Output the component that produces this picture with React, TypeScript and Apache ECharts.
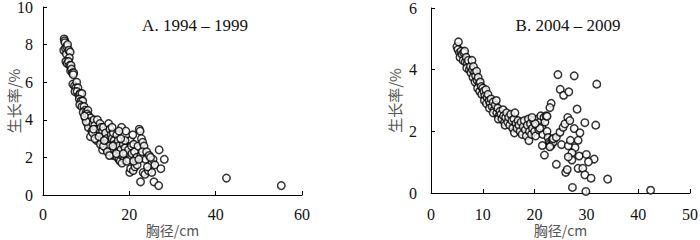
import React, { useEffect, useRef } from "react";
import * as echarts from "echarts";

const titleA = "A. 1994 – 1999";
const titleB = "B. 2004 – 2009";
const yName = "生长率/%";
const xName = "胸径/cm";

const dataA: number[][] = [
  [4.9,8.3],[5.0,8.2],[5.1,8.1],[4.8,7.7],[5.2,7.8],[5.5,7.9],[5.7,8.0],[5.4,7.5],[6.0,7.7],[6.3,7.6],
  [6.1,7.3],[5.3,7.1],[5.6,7.0],[5.9,7.1],[6.2,6.9],[6.5,6.9],[6.4,6.6],[6.6,6.7],[6.8,6.5],[7.1,6.5],
  [7.0,6.4],[6.9,5.9],[7.3,5.8],[7.8,6.0],[7.6,5.7],[8.1,5.7],[7.4,5.5],[7.9,5.5],[8.3,5.3],[8.6,5.4],
  [9.0,5.4],[8.4,5.1],[8.8,5.0],[9.2,5.0],[8.5,4.8],[9.0,4.7],[9.5,4.7],[9.7,4.5],[9.3,4.4],[10.0,4.4],
  [10.4,4.5],[9.8,4.1],[10.2,4.3],[10.6,4.2],[11.0,4.1],[10.3,3.8],[10.8,3.9],[11.2,3.7],[10.5,3.6],[11.5,3.8],
  [11.8,4.0],[11.0,3.1],[11.3,3.4],[12.0,3.7],[12.3,3.5],[12.6,4.0],[12.2,3.2],[12.8,3.3],[13.2,3.8],[13.0,3.5],
  [13.5,3.6],[13.8,3.4],[13.6,3.0],[14.0,3.6],[14.2,3.1],[14.5,3.3],[14.8,3.0],[15.2,3.8],[15.5,3.5],[15.0,2.8],
  [14.3,2.7],[13.8,2.4],[14.6,2.5],[15.3,2.6],[15.8,3.2],[16.0,3.0],[16.3,3.3],[16.5,2.9],[16.7,2.7],[15.6,2.3],
  [16.1,2.4],[16.4,2.1],[16.9,2.5],[17.1,3.2],[17.4,2.9],[17.5,2.6],[17.8,2.3],[17.2,2.0],[17.6,1.9],[17.9,1.8],
  [18.2,3.6],[18.0,2.4],[18.4,2.1],[18.6,2.7],[18.8,1.9],[18.3,1.7],[19.2,3.4],[19.0,2.5],[19.3,2.2],[19.6,2.0],
  [19.8,2.4],[20.2,2.9],[20.5,2.6],[20.0,1.9],[20.1,1.2],[20.3,1.4],[20.6,2.2],[20.8,3.2],[21.0,2.7],[21.2,2.3],
  [20.9,1.3],[21.3,1.5],[21.5,1.9],[21.7,2.0],[21.8,1.6],[22.0,2.6],[22.3,3.5],[22.5,3.4],[22.8,3.0],[23.1,2.8],
  [23.4,2.6],[22.7,2.1],[23.0,2.3],[22.6,0.7],[23.2,1.2],[23.6,1.1],[24.0,2.3],[24.4,1.3],[23.8,1.9],[24.6,2.1],
  [25.2,1.7],[25.5,1.9],[25.2,1.2],[25.9,1.6],[25.7,0.7],[26.8,0.5],[26.9,2.4],[27.3,1.4],[28.1,1.9],[42.5,0.9],
  [55.2,0.5],
  [12.5,2.9],[13.3,2.7],[14.0,2.6],[14.9,2.3],[15.4,2.1],[16.2,2.6],[17.0,2.2],[18.6,2.2],[19.4,1.8],[19.0,2.9],
  [18.0,3.0],[16.0,3.6],[17.6,3.4],[11.5,3.3],[12.0,3.0],[13.0,3.1],[21.0,1.8],[22.2,1.9],[24.9,2.0],[24.2,1.5],
  [10.0,3.9],[9.6,4.2],[11.7,3.5],[14.2,2.9]
];

const dataB: number[][] = [
  [5.0,4.75],[5.3,4.9],[5.2,4.65],[5.5,4.55],[5.8,4.6],[5.6,4.4],[6.0,4.5],[6.3,4.55],[6.5,4.6],[6.2,4.3],
  [6.6,4.25],[6.8,4.4],[7.0,4.2],[7.2,4.3],[6.9,4.05],[7.4,4.0],[7.6,4.1],[7.9,4.3],[7.7,3.9],[8.0,4.0],
  [8.2,4.1],[8.4,3.9],[8.1,3.75],[8.6,3.8],[8.8,3.95],[8.5,3.6],[8.9,3.65],[9.1,3.75],[9.3,3.55],[9.0,3.4],
  [9.5,3.6],[9.4,3.3],[9.7,3.45],[10.0,3.4],[9.8,3.2],[10.2,3.3],[10.4,3.15],[10.6,3.35],[10.3,3.0],[10.8,3.1],
  [11.0,3.2],[10.7,2.9],[11.2,3.0],[11.4,2.9],[11.6,3.05],[11.3,2.75],[11.8,2.8],[12.0,2.95],[12.2,2.7],[12.4,2.85],
  [12.0,2.6],[12.6,3.0],[12.7,2.6],[12.9,2.75],[13.1,2.5],[13.3,2.65],[13.0,2.4],[13.5,2.55],[13.7,2.4],[13.9,2.7],
  [14.0,2.5],[14.2,2.3],[14.4,2.45],[14.6,2.6],[14.3,2.2],[14.8,2.3],[15.0,2.45],[15.2,2.2],[15.4,2.55],[15.6,2.35],
  [15.8,2.1],[16.0,2.4],[16.2,2.6],[16.4,2.25],[16.1,1.95],[16.6,2.1],[16.8,2.35],[17.0,2.2],[17.2,2.0],[17.4,2.3],
  [17.6,1.9],[17.8,2.15],[18.0,2.35],[18.2,2.05],[18.4,1.85],[18.6,2.2],[18.8,2.4],[18.9,1.7],[19.0,2.0],[19.2,2.25],
  [19.4,1.9],[19.6,2.1],[19.8,2.35],[20.0,2.0],[20.2,1.85],[20.4,2.2],[20.6,2.4],[20.8,2.05],[21.0,2.3],[21.2,2.5],
  [21.4,2.15],[21.6,1.9],[21.8,2.45],[22.0,2.3],[22.2,2.5],[22.4,2.0],[22.6,1.8],[22.8,1.65],[23.0,1.6],[23.2,1.55],
  [23.4,1.75],[23.6,1.65],[21.0,2.1],[20.1,2.25],[19.5,2.45],
  [24.5,3.84],[27.65,3.8],[32.0,3.53],[24.95,3.36],[25.6,3.17],[26.6,3.28],[23.2,2.91],[22.95,2.77],[28.2,2.72],[26.4,2.45],
  [22.4,2.49],[29.7,2.28],[31.8,2.2],[27.65,2.09],[28.75,1.95],[28.4,1.71],[25.2,1.57],[27.8,1.47],[26.5,1.53],[27.2,1.3],
  [28.6,1.2],[30.0,1.25],[31.5,1.1],[30.4,1.01],[24.2,0.93],[28.4,0.8],[29.3,0.8],[26.0,0.67],[26.3,0.76],[29.7,0.59],
  [30.9,0.48],[34.1,0.45],[27.3,0.18],[29.9,0.05],[42.4,0.09],[21.9,1.23],[21.5,1.54],[22.95,1.5],[23.6,1.76],[24.2,1.81],
  [24.9,1.97],[25.5,2.13],[25.85,2.24],[26.8,2.35],[26.9,1.71],[27.2,1.07],[26.5,1.17]
];

const serif = "'Liberation Serif', 'DejaVu Serif', serif";
const cjk = "'Noto Sans CJK SC', sans-serif";

function axisCommon(margin: number) {
  return {
    axisLine: { show: true, lineStyle: { color: "#000", width: 1 } },
    axisTick: { show: true, inside: true, length: 4, lineStyle: { color: "#000" } },
    splitLine: { show: false },
    axisLabel: { color: "#111", fontFamily: serif, fontSize: 16, lineHeight: 14, margin },
    nameMoveOverlap: false,
  };
}

export default function App() {
  const ref = useRef<HTMLDivElement>(null);
  useEffect(() => {
    if (!ref.current) return;
    const chart = echarts.init(ref.current, null, { renderer: "svg" });
    const nameStyle = { color: "#555", fontFamily: cjk, fontSize: 15, lineHeight: 15 };
    const xNameStyle = { color: "#555", fontFamily: cjk, fontSize: 14, lineHeight: 14 };
    const symbolStyle = { color: "#fff", borderColor: "#000", borderWidth: 1.5 };
    const titleStyle = { fontFamily: serif, fontSize: 17, fontWeight: "normal", color: "#111" };
    chart.setOption({
      animation: false,
      backgroundColor: "#fff",
      title: [
        { text: titleA, left: 190, top: 12, textAlign: "center", textStyle: titleStyle },
        { text: titleB, left: 563, top: 12, textAlign: "center", textStyle: titleStyle },
      ],
      grid: [
        { left: 43, top: 7, width: 259, height: 188, outerBoundsMode: "none", containLabel: false },
        { left: 431, top: 8, width: 259, height: 185, outerBoundsMode: "none", containLabel: false },
      ],
      xAxis: [
        { ...axisCommon(12), type: "value", gridIndex: 0, min: 0, max: 60, interval: 20,
          name: xName, nameLocation: "middle", nameGap: 28, nameTextStyle: xNameStyle },
        { ...axisCommon(14), type: "value", gridIndex: 1, min: 0, max: 50, interval: 10,
          name: xName, nameLocation: "middle", nameGap: 30, nameTextStyle: xNameStyle },
      ],
      yAxis: [
        { ...axisCommon(10), type: "value", gridIndex: 0, min: 0, max: 10, interval: 2,
          name: yName, nameLocation: "middle", nameGap: 22, nameTextStyle: nameStyle },
        { ...axisCommon(14), type: "value", gridIndex: 1, min: 0, max: 6, interval: 2,
          name: yName, nameLocation: "middle", nameGap: 29, nameTextStyle: nameStyle },
      ],
      series: [
        { type: "scatter", xAxisIndex: 0, yAxisIndex: 0, data: dataA, symbol: "circle",
          symbolSize: 7.5, itemStyle: symbolStyle },
        { type: "scatter", xAxisIndex: 1, yAxisIndex: 1, data: dataB, symbol: "circle",
          symbolSize: 7.5, itemStyle: symbolStyle },
      ],
    });
    return () => chart.dispose();
  }, []);
  return (
    <div
      ref={ref}
      style={{ position: "fixed", left: 0, top: 0, width: 700, height: 240, background: "#fff" }}
    />
  );
}
